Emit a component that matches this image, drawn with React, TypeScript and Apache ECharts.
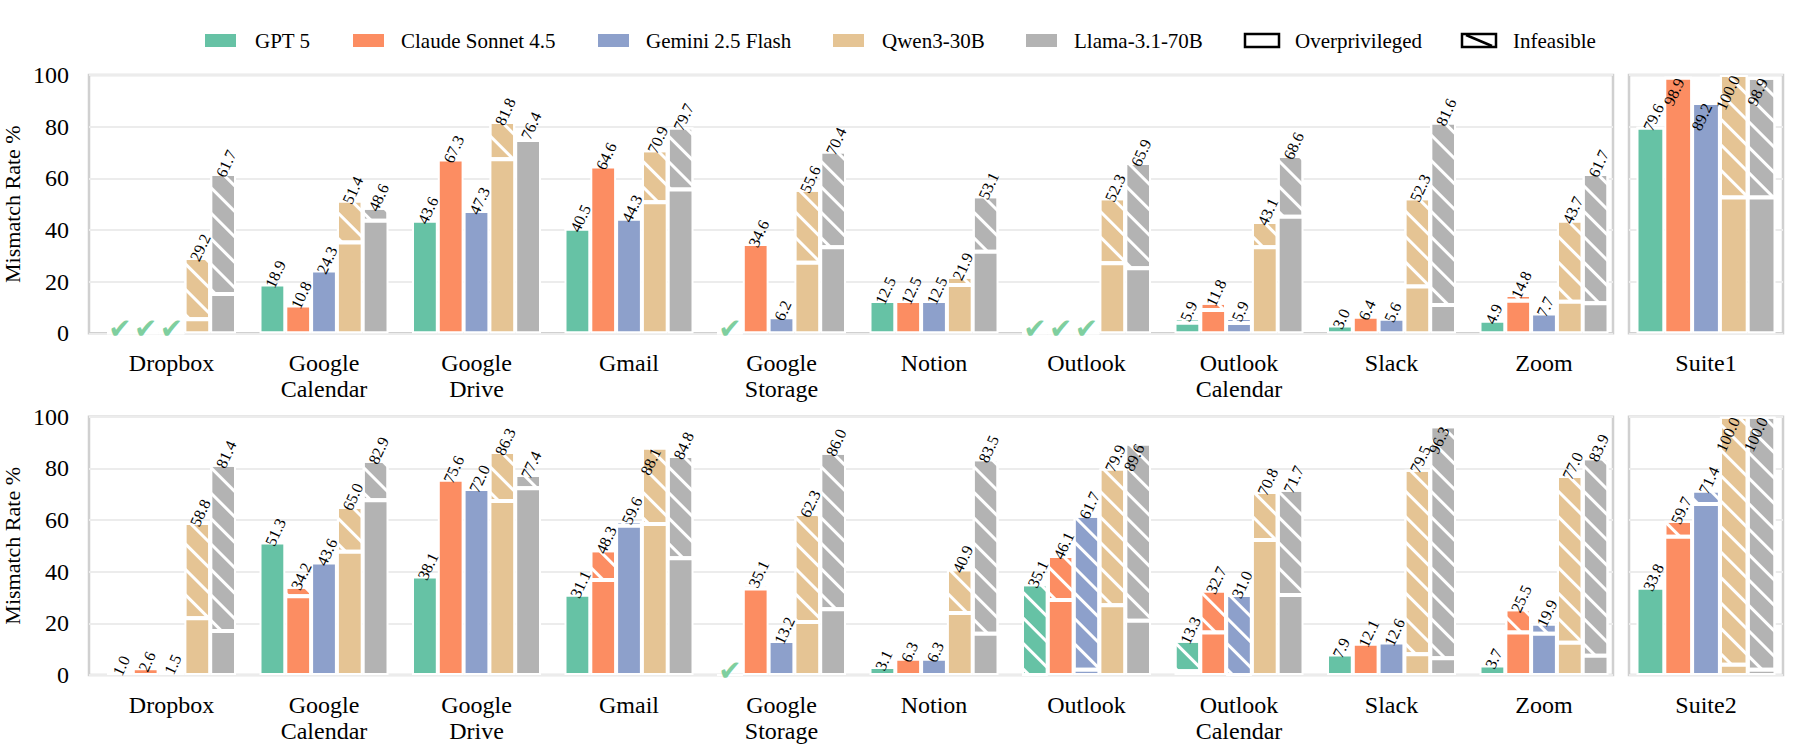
import React, { useEffect, useRef } from 'react';
import * as echarts from 'echarts';

const FONT = "'Liberation Serif', 'Times New Roman', serif";

const models = ['GPT 5', 'Claude Sonnet 4.5', 'Gemini 2.5 Flash', 'Qwen3-30B', 'Llama-3.1-70B'];
const colors = ['#66c2a5', '#fc8d62', '#8da0cb', '#e5c494', '#b3b3b3'];
const apps = ['Dropbox', 'Google\nCalendar', 'Google\nDrive', 'Gmail', 'Google\nStorage', 'Notion', 'Outlook', 'Outlook\nCalendar', 'Slack', 'Zoom'];
const suiteNames = ['Suite1', 'Suite2'];
const yTickStep = 20;

// Suite 1 — total mismatch rate (bar label) per model across apps
const s1Total: number[][] = [
  [0, 18.9, 43.6, 40.5, 0, 12.5, 0, 5.9, 3.0, 4.9],
  [0, 10.8, 67.3, 64.6, 34.6, 12.5, 0, 11.8, 6.4, 14.8],
  [0, 24.3, 47.3, 44.3, 6.2, 12.5, 0, 5.9, 5.6, 7.7],
  [29.2, 51.4, 81.8, 70.9, 55.6, 21.9, 52.3, 43.1, 52.3, 43.7],
  [61.7, 48.6, 76.4, 79.7, 70.4, 53.1, 65.9, 68.6, 81.6, 61.7],
];
// Suite 1 — overprivileged part (solid, bottom)
const s1Over: number[][] = [
  [0, 18.9, 43.6, 40.5, 0, 12.5, 0, 4.1, 3.0, 4.9],
  [0, 10.8, 67.3, 64.6, 34.6, 12.5, 0, 9.0, 6.4, 12.6],
  [0, 24.3, 47.3, 44.3, 6.2, 12.5, 0, 4.0, 5.6, 7.7],
  [5.4, 35.2, 67.4, 50.7, 27.3, 18.7, 27.1, 33.3, 18.1, 12.2],
  [15.2, 43.6, 74.8, 55.7, 33.3, 31.6, 25.2, 45.1, 11.0, 11.6],
];
const s1SuiteTotal = [79.6, 98.9, 89.2, 100.0, 98.9];
const s1SuiteOver = [79.6, 98.9, 89.2, 52.6, 52.6];

// Suite 2
const s2Total: number[][] = [
  [1.0, 51.3, 38.1, 31.1, 0, 3.1, 35.1, 13.3, 7.9, 3.7],
  [2.6, 34.2, 75.6, 48.3, 35.1, 6.3, 46.1, 32.7, 12.1, 25.5],
  [1.5, 43.6, 72.0, 59.6, 13.2, 6.3, 61.7, 31.0, 12.6, 19.9],
  [58.8, 65.0, 86.3, 88.1, 62.3, 40.9, 79.9, 70.8, 79.5, 77.0],
  [81.4, 82.9, 77.4, 84.8, 86.0, 83.5, 89.6, 71.7, 96.3, 83.9],
];
const s2Over: number[][] = [
  [1.0, 51.3, 38.1, 31.1, 0, 3.1, 0, 1.5, 7.9, 3.7],
  [2.6, 30.5, 75.6, 36.8, 33.5, 6.3, 29.0, 16.5, 12.1, 16.5],
  [1.5, 43.6, 72.0, 57.8, 13.2, 6.3, 2.0, 0, 12.6, 16.0],
  [22.0, 47.7, 67.4, 58.5, 20.5, 24.0, 27.0, 52.3, 8.0, 12.5],
  [17.0, 67.7, 72.3, 45.2, 25.5, 16.0, 21.0, 31.0, 6.5, 7.5],
];
const s2SuiteTotal = [33.8, 59.7, 71.4, 100.0, 100.0];
const s2SuiteOver = [33.8, 53.5, 66.2, 4.0, 2.0];

const rows = [
  { totals: s1Total, overs: s1Over, suiteTotals: s1SuiteTotal, suiteOvers: s1SuiteOver },
  { totals: s2Total, overs: s2Over, suiteTotals: s2SuiteTotal, suiteOvers: s2SuiteOver },
];

const ROW_TOPS = [75, 416.7];
const ROW_H = 258.3;
const BORDER = '#d0d0d0';
const GRIDLINE = '#ececec';
const TEXT = '#000000';

const hatch = {
  symbol: 'rect',
  symbolSize: 1,
  color: '#ffffff',
  dashArrayX: [1, 0],
  dashArrayY: [3, 15],
  rotation: Math.PI / 4,
};

function labelFor(total: number) {
  if (total === 0) {
    return {
      show: true, formatter: '\u2714', position: 'insideBottom', distance: 0, rotate: 0,
      align: 'center', verticalAlign: 'middle', offset: [0, -5], color: '#7fcf9f', fontSize: 28, fontFamily: 'DejaVu Sans',
    };
  }
  const inside = total > 87;
  return {
    show: true, formatter: total.toFixed(1), position: inside ? 'insideTop' : 'top', distance: inside ? 5 : 4,
    rotate: 65, align: inside ? 'right' : 'left', verticalAlign: 'middle', offset: inside ? [4, 0] : [-7, 0],
    color: TEXT, fontSize: 16, fontFamily: FONT,
  };
}

function buildSeries(xIdx: number, yIdx: number, key: string, totals: number[][], overs: number[][], barWidth: number) {
  const out: any[] = [];
  for (let m = 0; m < models.length; m++) {
    const stack = key + '-' + m;
    const base = { type: 'bar', xAxisIndex: xIdx, yAxisIndex: yIdx, stack, barWidth, barGap: '0%', silent: true };
    out.push({ ...base, name: models[m], z: 2, data: overs[m].slice(), itemStyle: { color: colors[m], borderColor: '#ffffff', borderWidth: 2 } });
    out.push({
      ...base, name: models[m] + ' infeasible', z: 3,
      data: totals[m].map((t, i) => +(t - overs[m][i]).toFixed(1)),
      itemStyle: { color: colors[m], borderColor: '#ffffff', borderWidth: 2, decal: hatch },
    });
    out.push({
      ...base, name: models[m] + ' label', z: 10,
      data: totals[m].map((t) => ({ value: 0, label: labelFor(t) })),
      itemStyle: { color: 'rgba(0,0,0,0)', borderWidth: 0 },
    });
  }
  return out;
}

function legendGraphics() {
  const y = 34, w = 31, h = 13;
  const items: any[] = [];
  const entries = [
    { name: models[0], sx: 205, tx: 255, kind: 0 },
    { name: models[1], sx: 353, tx: 401, kind: 1 },
    { name: models[2], sx: 598, tx: 646, kind: 2 },
    { name: models[3], sx: 833, tx: 882, kind: 3 },
    { name: models[4], sx: 1026, tx: 1074, kind: 4 },
    { name: 'Overprivileged', sx: 1245, tx: 1295, kind: 5 },
    { name: 'Infeasible', sx: 1462, tx: 1513, kind: 6 },
  ];
  entries.forEach((e) => {
    if (e.kind < 5) {
      items.push({ type: 'rect', shape: { x: e.sx, y, width: w, height: h }, style: { fill: colors[e.kind] } });
    } else {
      items.push({ type: 'rect', shape: { x: e.sx, y, width: w + 3, height: h }, style: { fill: '#ffffff', stroke: '#000000', lineWidth: 2.5 } });
      if (e.kind === 6) {
        items.push({ type: 'line', shape: { x1: e.sx + 4, y1: y + 1, x2: e.sx + w - 1, y2: y + h - 1 }, style: { stroke: '#000000', lineWidth: 2.5 } });
      }
    }
    items.push({
      type: 'text', x: e.tx, y: y + h / 2,
      style: { text: e.name, fontSize: 21, fontFamily: FONT, fill: TEXT, align: 'left', verticalAlign: 'middle', textAlign: 'left', textVerticalAlign: 'middle' },
    });
  });
  for (let r = 0; r < 2; r++) {
    items.push({
      type: 'text', x: 12, y: ROW_TOPS[r] + ROW_H / 2, rotation: Math.PI / 2,
      style: { text: 'Mismatch Rate %', fontSize: 22, fontFamily: FONT, fill: TEXT, align: 'center', verticalAlign: 'middle', textAlign: 'center', textVerticalAlign: 'middle' },
    });
  }
  return items;
}

function buildOption() {
  const grid: any[] = [];
  const xAxis: any[] = [];
  const yAxis: any[] = [];
  let series: any[] = [];
  const catLabel = { fontSize: 24, lineHeight: 26, margin: 17, color: TEXT, fontFamily: FONT, interval: 0 };
  rows.forEach((row, r) => {
    const top = ROW_TOPS[r];
    const bottom = 750 - (top + ROW_H);
    const gb = r * 3;
    // bars (main panel)
    grid.push({ left: 95.25, right: 179.75, top, bottom, show: false, containLabel: false, outerBoundsMode: 'none' });
    // main panel frame, gridlines and y ticks
    grid.push({ left: 89, right: 187, top, bottom, show: true, borderColor: BORDER, borderWidth: 2.5, backgroundColor: 'rgba(0,0,0,0)', containLabel: false, outerBoundsMode: 'none' });
    // suite panel
    grid.push({ left: 1629, right: 17, top, bottom, show: true, borderColor: BORDER, borderWidth: 2.5, backgroundColor: 'rgba(0,0,0,0)', containLabel: false, outerBoundsMode: 'none' });
    xAxis.push({ type: 'category', gridIndex: gb, data: apps, axisLine: { show: false }, axisTick: { show: false }, axisLabel: catLabel, splitLine: { show: false } });
    xAxis.push({ type: 'value', gridIndex: gb + 1, min: 0, max: 1, show: false });
    xAxis.push({ type: 'category', gridIndex: gb + 2, data: [suiteNames[r]], axisLine: { show: false }, axisTick: { show: false }, axisLabel: catLabel, splitLine: { show: false } });
    yAxis.push({ type: 'value', gridIndex: gb, min: 0, max: 100, interval: yTickStep, show: false, splitLine: { show: false } });
    yAxis.push({
      type: 'value', gridIndex: gb + 1, min: 0, max: 100, interval: yTickStep, axisLine: { show: false }, axisTick: { show: false },
      axisLabel: { fontSize: 24, margin: 20, color: TEXT, fontFamily: FONT },
      splitLine: { show: true, lineStyle: { color: GRIDLINE, width: 2 } },
    });
    yAxis.push({
      type: 'value', gridIndex: gb + 2, min: 0, max: 100, interval: yTickStep, axisLine: { show: false }, axisTick: { show: false }, axisLabel: { show: false },
      splitLine: { show: true, lineStyle: { color: GRIDLINE, width: 2 } },
    });
    series = series.concat(buildSeries(gb, gb, 'main' + r, row.totals, row.overs, 25.8));
    series = series.concat(buildSeries(gb + 2, gb + 2, 'suite' + r, row.suiteTotals.map((v) => [v]), row.suiteOvers.map((v) => [v]), 27.8));
  });
  return { animation: false, backgroundColor: '#ffffff', textStyle: { fontFamily: FONT }, grid, xAxis, yAxis, series, graphic: legendGraphics() };
}

export default function App() {
  const ref = useRef<HTMLDivElement>(null);
  useEffect(() => {
    if (!ref.current) return;
    const chart = echarts.init(ref.current, undefined, { renderer: 'svg' });
    chart.setOption(buildOption() as any);
    return () => chart.dispose();
  }, []);
  return <div ref={ref} style={{ position: 'absolute', left: 0, top: 0, width: 1800, height: 750 }} />;
}
